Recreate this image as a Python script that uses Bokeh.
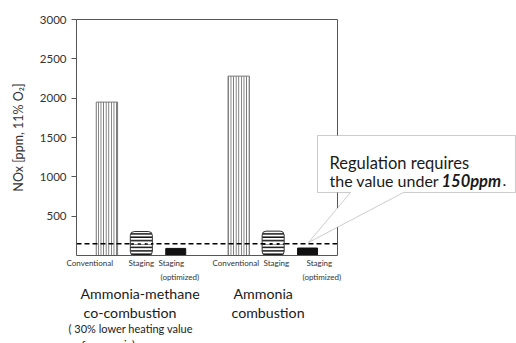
from bokeh.plotting import figure
from bokeh.models import Range1d, FixedTicker, Label, PolyAnnotation, LinearAxis
from bokeh.embed import file_html
from bokeh.resources import INLINE

# ---- data ----
categories = ["Conventional", "Staging", "Staging\n(optimized)"]
groups = ["Ammonia-methane\n co-combustion", "Ammonia\ncombustion"]
group_note = "( 30% lower heating value\n of ammonia)"
conventional = [1950, 2280]
staging = [305, 310]
staging_opt = [90, 95]
regulation_ppm = 150
y_ticks = [500, 1000, 1500, 2000, 2500, 3000]
y_label = "NOx [ppm, 11% O\u2082]"
callout = ["Regulation requires", "the value under", "150ppm", "."]

FONT = "Lato"
W, H = 516, 343
# plot-box geometry in pixels (canvas) and data
BOX_L, BOX_R, BOX_T, BOX_B = 76, 337, 19, 255
GAP = 0.83
n = len(categories)
pos = [[g * (n + GAP) + i for i in range(n)] for g in range(len(groups))]
XMIN, XMAX = -0.884, 6.70
YMIN, YMAX = 0, 3000
ppx = (BOX_R - BOX_L) / (XMAX - XMIN)
ppy = (BOX_B - BOX_T) / (YMAX - YMIN)
x_range = Range1d(XMIN - BOX_L / ppx, XMIN + (W - BOX_L) / ppx)
y_range = Range1d(YMIN - (H - BOX_B) / ppy, YMAX + BOX_T / ppy)

p = figure(width=W, height=H, output_backend="svg", toolbar_location=None,
           x_range=x_range, y_range=y_range, min_border=0,
           x_axis_location=None, y_axis_location=None)
p.background_fill_color = "white"
p.border_fill_color = "white"
p.outline_line_color = None
p.grid.visible = False

AX = "#555555"

# y axis
yax = LinearAxis(fixed_location=XMIN, bounds=(YMIN, YMAX),
                 ticker=FixedTicker(ticks=y_ticks))
yax.major_tick_out = 5
yax.major_tick_in = 0
yax.minor_tick_line_color = None
yax.axis_line_color = AX
yax.major_tick_line_color = AX
yax.major_label_text_font = FONT
yax.major_label_text_font_size = "11.5px"
yax.major_label_text_color = "#333333"
yax.major_label_standoff = 5
yax.axis_label = y_label
yax.axis_label_text_font = FONT
yax.axis_label_text_font_style = "normal"
yax.axis_label_text_font_size = "12.5px"
yax.axis_label_text_color = "#333333"
yax.axis_label_standoff = 11
p.add_layout(yax, "left")

# x axis (bottom), top and right box lines
xax = LinearAxis(fixed_location=YMIN, bounds=(XMIN, XMAX),
                 ticker=FixedTicker(ticks=[x for g in pos for x in g]))
xax.major_tick_line_color = None
xax.minor_tick_line_color = None
xax.major_label_text_color = None
xax.axis_line_color = AX
p.add_layout(xax, "below")

for loc, side, bnds in [(YMAX, "above", (XMIN, XMAX)), (XMAX, "right", (YMIN, YMAX))]:
    a = LinearAxis(fixed_location=loc, bounds=bnds, ticker=FixedTicker(ticks=[]))
    a.major_tick_line_color = None
    a.minor_tick_line_color = None
    a.major_label_text_color = None
    a.axis_line_color = AX
    p.add_layout(a, side)

# bars
p.vbar(x=[g[0] for g in pos], top=conventional, width=0.62, bottom=0,
       fill_color="white", line_color="#777777", line_width=1,
       hatch_pattern="vertical_line", hatch_color="#666666",
       hatch_scale=2.6, hatch_weight=1)
p.vbar(x=[g[1] for g in pos], top=staging, width=0.64, bottom=0,
       fill_color="white", line_color="#333333", line_width=1,
       hatch_pattern="horizontal_line", hatch_color="#111111",
       hatch_scale=3.4, hatch_weight=1.6, border_radius=4)
p.vbar(x=[g[2] for g in pos], top=staging_opt, width=0.58, bottom=0,
       fill_color="#111111", line_color="#111111")

# regulation line
p.line(x=[XMIN, XMAX], y=[regulation_ppm] * 2, line_color="black",
       line_width=1.6, line_dash="5 3")
p.segment(x0=[g[1] - 0.22 for g in pos], x1=[g[1] + 0.28 for g in pos],
          y0=[regulation_ppm] * 2, y1=[regulation_ppm] * 2,
          line_color="white", line_width=1.6, line_dash="4 3")


def lab(text, X, Y, size, style="normal", color="#1a1a1a", baseline="middle"):
    """X, Y in canvas pixels from top-left."""
    p.add_layout(Label(x=X, y=H - Y, x_units="screen", y_units="screen", text=text,
                       text_font=FONT, text_font_size=size, text_font_style=style,
                       text_color=color, text_baseline=baseline, text_align="left"))


# category labels (hand placed, as in the original slide)
cat_xy = [(66, 128, (158, 160)), (212, 263, (306, 302))]
for g in range(len(groups)):
    for i, c in enumerate(categories):
        lines = c.split("\n")
        xs = cat_xy[g][i] if isinstance(cat_xy[g][i], tuple) else (cat_xy[g][i],)
        for k, ln in enumerate(lines):
            lab(ln, xs[k], 262 + 14 * k, "8px", color="#333333")

# group labels
g1 = groups[0].split("\n")
lab(g1[0], 80, 293, "14.2px")
lab(g1[1].strip(), 83, 312, "14.2px")
nl = group_note.split("\n")
lab(nl[0], 68, 328, "11px")
lab(nl[1].strip(), 75, 344, "11px")
g2 = groups[1].split("\n")
lab(g2[0], 233, 293, "14.2px")
lab(g2[1], 231, 312, "14.2px")

# callout
cx = [317, 515, 515, 403, 308, 350, 317]
cy = [135, 135, 192, 192, 242, 192, 192]
p.add_layout(PolyAnnotation(xs=cx, ys=[H - v for v in cy],
                            xs_units="screen", ys_units="screen",
                            fill_color="white", fill_alpha=1,
                            line_color=AX, line_width=1))
lab(callout[0], 329, 162, "16.5px", baseline="alphabetic")
lab(callout[1], 329, 180, "16px", baseline="alphabetic")
lab(callout[2], 441, 180, "16.5px", style="bold italic", baseline="alphabetic")
lab(callout[3], 502, 180, "16px", baseline="alphabetic")

open("out.html", "w").write(file_html(p, INLINE))
